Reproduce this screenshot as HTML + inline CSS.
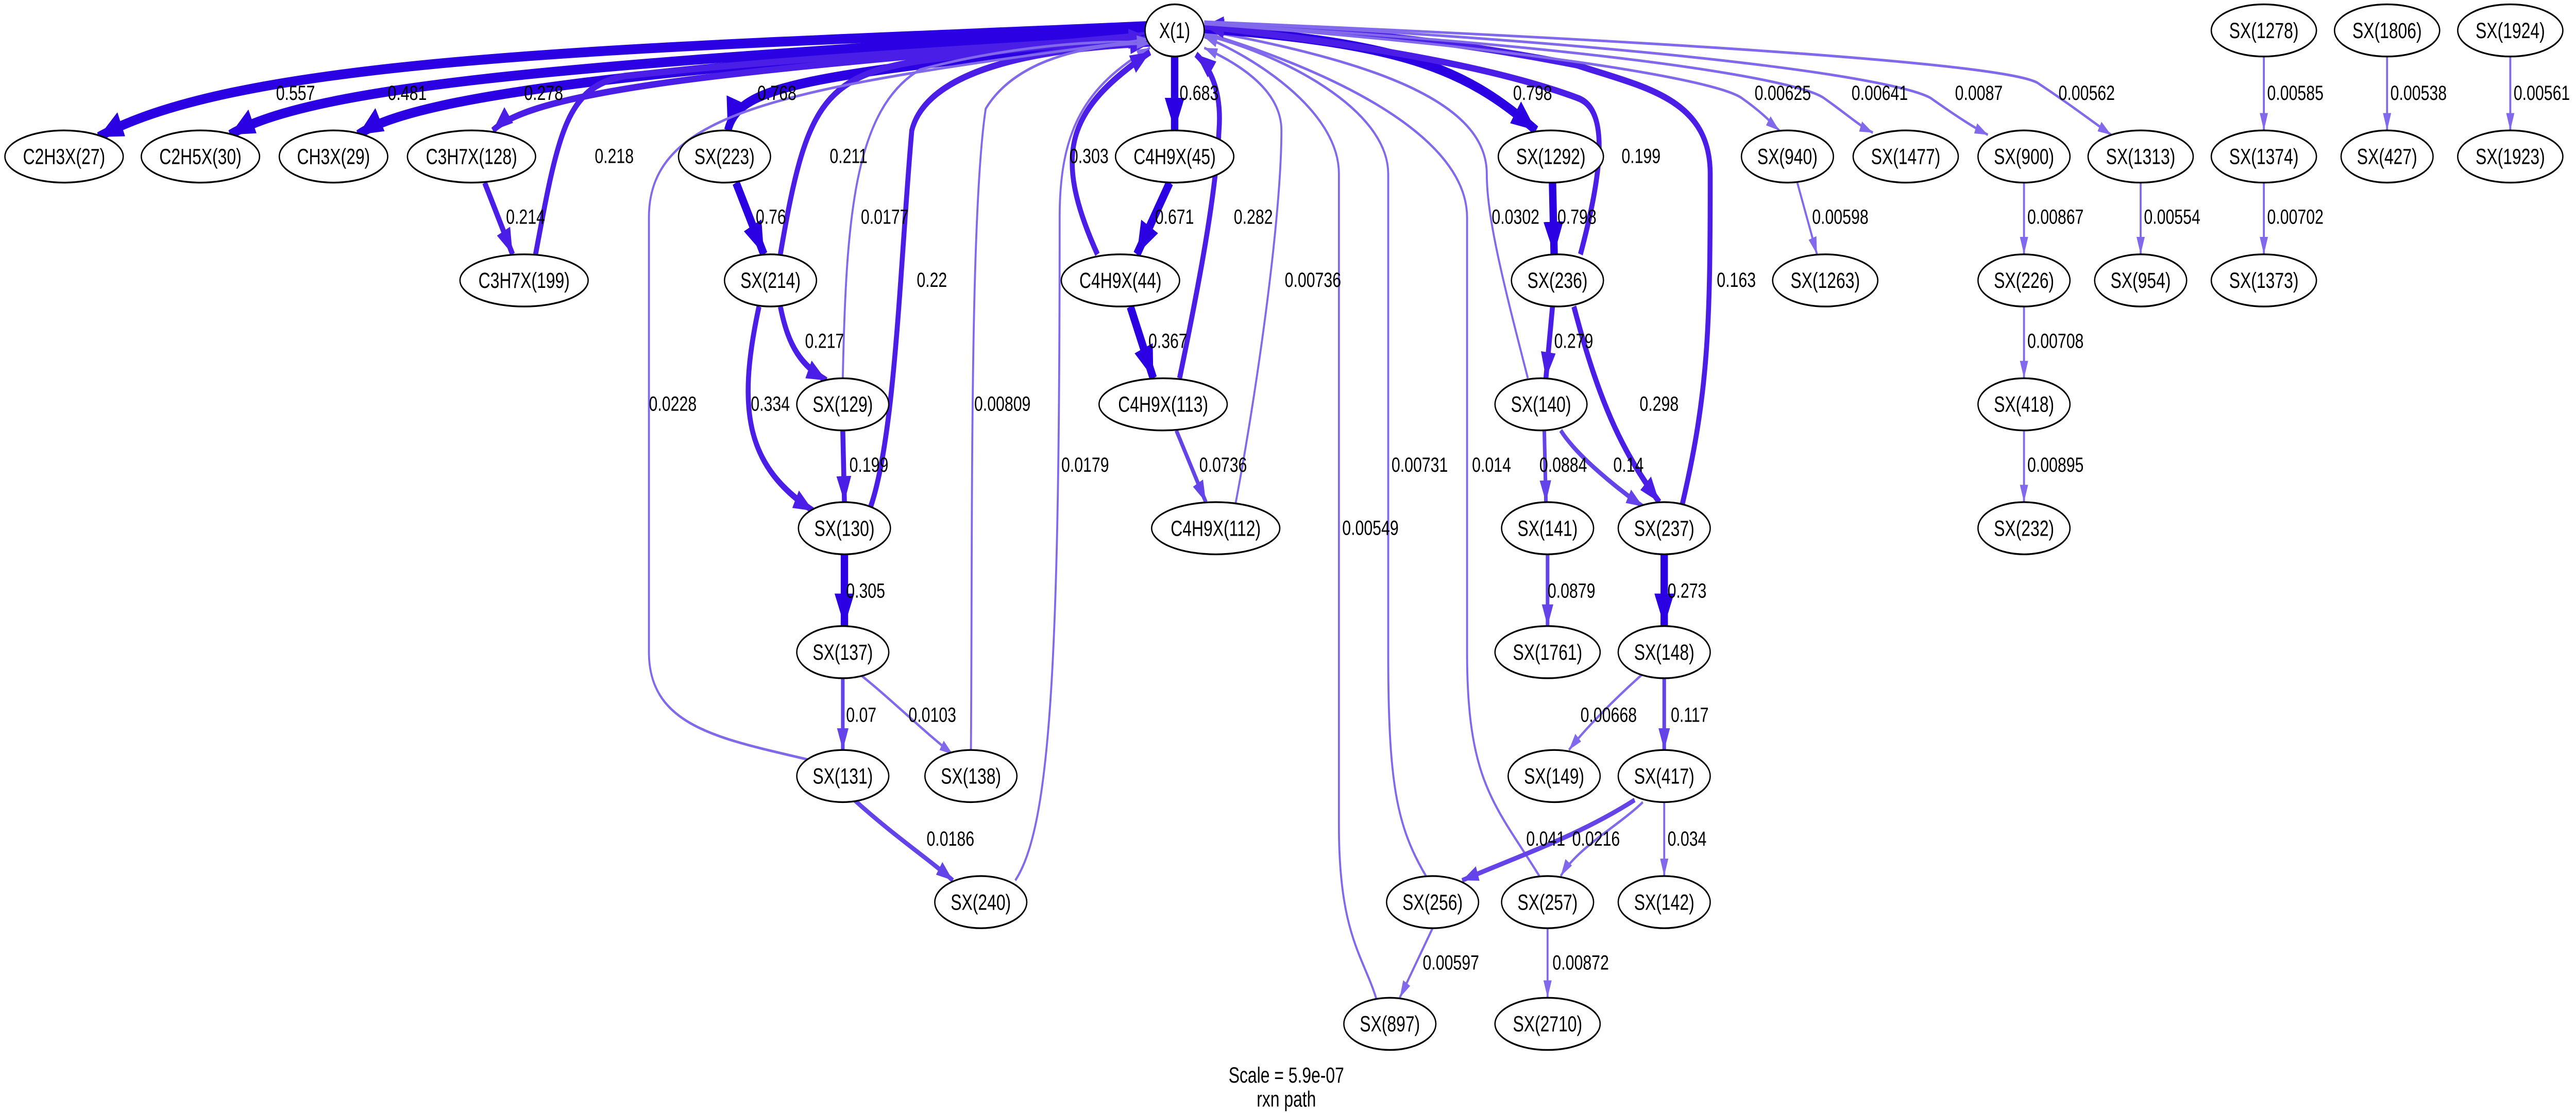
<!DOCTYPE html>
<html><head><meta charset="utf-8"><style>
html,body{margin:0;padding:0;background:#fff;width:100%;height:100%;overflow:hidden;}
svg{display:block;width:100vw;height:100vh;}
text{font-family:"Liberation Sans",Arial,sans-serif;fill:#000;}
.n ellipse{fill:#fff;stroke:#000;stroke-width:0.8;}
.n text{font-size:10px;text-anchor:middle;dominant-baseline:central;}
.l{font-size:9.5px;}
.c1,.c2,.c3,.c4{fill:none;}
.c1{stroke:#2b00e3;stroke-width:4.5;}
.c2{stroke:#4a1ee6;stroke-width:3;}
.c3{stroke:#6443e8;stroke-width:2.2;}
.c4{stroke:#8268ea;stroke-width:1.2;}
</style></head><body>
<svg viewBox="0 0 1568 512" preserveAspectRatio="none" xmlns="http://www.w3.org/2000/svg">
<defs>
<marker id="A" refX="15" refY="6" markerUnits="userSpaceOnUse" markerWidth="15" markerHeight="12" orient="auto"><path d="M0,0L15,6L0,12z" style="fill:#2b00e3;stroke:none"/></marker>
<marker id="B" refX="12" refY="4.5" markerUnits="userSpaceOnUse" markerWidth="12" markerHeight="9" orient="auto"><path d="M0,0L12,4.5L0,9z" style="fill:#4a1ee6;stroke:none"/></marker>
<marker id="C" refX="10" refY="3.5" markerUnits="userSpaceOnUse" markerWidth="10" markerHeight="7" orient="auto"><path d="M0,0L10,3.5L0,7z" style="fill:#6443e8;stroke:none"/></marker>
<marker id="D" refX="8" refY="2.5" markerUnits="userSpaceOnUse" markerWidth="8" markerHeight="5" orient="auto"><path d="M0,0L8,2.5L0,5z" style="fill:#8268ea;stroke:none"/></marker>
</defs>
<rect width="1568" height="512" fill="#fff"/>
<!-- edges -->
<path class="c1" marker-end="url(#A)" d="M698,12 C400,22 150,25 60,63"/>
<path class="c1" marker-end="url(#A)" d="M698,13 C420,28 200,35 140,62"/>
<path class="c1" marker-end="url(#A)" d="M699,14 C450,30 260,40 218,62"/>
<path class="c2" marker-end="url(#B)" d="M700,16 C500,30 330,38 300,60"/>
<path class="c2" marker-end="url(#B)" d="M295,84 L312,117"/>
<path class="c2" marker-end="url(#B)" d="M326,117 C340,60 345,40 380,35 C500,25 650,20 699,17"/>
<path class="c1" marker-end="url(#A)" d="M700,18 C480,35 450,40 443,60"/>
<path class="c1" marker-end="url(#A)" d="M448,84 L465,117"/>
<path class="c2" marker-end="url(#B)" d="M475,117 C490,50 500,35 560,28 C620,22 680,18 699,18"/>
<path class="c2" marker-end="url(#B)" d="M475,141 C480,160 488,168 503,175"/>
<path class="c2" marker-end="url(#B)" d="M462,141 C448,190 455,215 495,235"/>
<path class="c2" marker-end="url(#B)" d="M513,198 L514,231"/>
<path class="c4" marker-end="url(#D)" d="M513,174 C515,100 520,50 560,32 C620,20 680,18 700,20"/>
<path class="c2" marker-end="url(#B)" d="M530,233 C545,200 548,120 555,60 C565,30 640,22 700,20"/>
<path class="c1" marker-end="url(#A)" d="M514,255 L514,288"/>
<path class="c3" marker-end="url(#C)" d="M513,312 L513,345"/>
<path class="c4" marker-end="url(#D)" d="M523,310 C540,320 560,335 580,347"/>
<path class="c4" marker-end="url(#D)" d="M591,345 C592,250 590,100 600,50 C620,25 670,20 700,20"/>
<path class="c4" marker-end="url(#D)" d="M495,350 C440,340 395,335 395,300 L395,100 C395,50 480,40 700,18"/>
<path class="c3" marker-end="url(#C)" d="M520,368 C545,385 565,395 580,405"/>
<path class="c4" marker-end="url(#D)" d="M618,405 C640,380 645,300 645,100 C645,60 660,40 700,22"/>
<path class="c2" marker-end="url(#B)" d="M668,117 C640,70 650,50 700,24"/>
<path class="c1" marker-end="url(#A)" d="M715,26 L715,60"/>
<path class="c1" marker-end="url(#A)" d="M712,84 L692,117"/>
<path class="c1" marker-end="url(#A)" d="M688,141 L702,174"/>
<path class="c2" marker-end="url(#B)" d="M718,174 C730,130 740,90 742,60 C744,40 735,30 728,25"/>
<path class="c3" marker-end="url(#C)" d="M716,198 L734,231"/>
<path class="c4" marker-end="url(#D)" d="M752,232 C765,180 780,100 780,60 C780,40 750,28 733,22"/>
<path class="c4" marker-end="url(#D)" d="M838,460 C830,440 815,430 815,380 L815,80 C815,50 760,25 733,17"/>
<path class="c4" marker-end="url(#D)" d="M868,403 C850,380 845,360 845,300 L845,80 C845,50 780,25 733,16"/>
<path class="c4" marker-end="url(#D)" d="M937,403 C910,370 893,360 893,300 L893,100 C893,60 800,30 733,15"/>
<path class="c4" marker-end="url(#D)" d="M930,174 C915,130 905,100 905,80 C905,50 850,30 733,14"/>
<path class="c1" marker-end="url(#A)" d="M733,13 C850,20 890,30 935,60"/>
<path class="c1" marker-end="url(#A)" d="M945,84 L946,117"/>
<path class="c2" marker-end="url(#B)" d="M962,117 C975,80 980,50 960,45 C900,28 800,18 733,12"/>
<path class="c2" marker-end="url(#B)" d="M945,141 L941,174"/>
<path class="c2" marker-end="url(#B)" d="M958,141 C975,190 990,210 1010,231"/>
<path class="c3" marker-end="url(#C)" d="M940,198 L941,231"/>
<path class="c3" marker-end="url(#C)" d="M950,198 C960,210 985,225 1000,233"/>
<path class="c2" marker-end="url(#B)" d="M1024,232 C1040,180 1041,150 1041,80 C1041,45 1000,40 960,30 C880,18 800,12 733,12"/>
<path class="c1" marker-end="url(#A)" d="M1013,255 L1013,288"/>
<path class="c3" marker-end="url(#C)" d="M942,255 L942,288"/>
<path class="c4" marker-end="url(#D)" d="M1000,310 C985,320 965,335 955,345"/>
<path class="c3" marker-end="url(#C)" d="M1013,312 L1013,345"/>
<path class="c3" marker-end="url(#C)" d="M995,368 C960,385 920,395 890,405"/>
<path class="c4" marker-end="url(#D)" d="M1000,369 C985,380 960,390 950,403"/>
<path class="c4" marker-end="url(#D)" d="M1013,369 L1013,403"/>
<path class="c4" marker-end="url(#D)" d="M872,427 L852,459"/>
<path class="c4" marker-end="url(#D)" d="M942,427 L942,459"/>
<path class="c4" marker-end="url(#D)" d="M733,11 C900,20 1040,35 1060,45 C1075,53 1080,58 1083,60"/>
<path class="c4" marker-end="url(#D)" d="M733,11 C950,20 1090,35 1110,45 C1125,53 1132,58 1140,61"/>
<path class="c4" marker-end="url(#D)" d="M733,10 C1000,20 1150,35 1175,45 C1190,53 1200,58 1210,62"/>
<path class="c4" marker-end="url(#D)" d="M733,10 C1050,20 1220,30 1240,38 C1260,48 1272,55 1285,62"/>
<path class="c4" marker-end="url(#D)" d="M1094,84 L1106,117"/>
<path class="c4" marker-end="url(#D)" d="M1232,84 L1232,117"/>
<path class="c4" marker-end="url(#D)" d="M1232,141 L1232,174"/>
<path class="c4" marker-end="url(#D)" d="M1232,198 L1232,231"/>
<path class="c4" marker-end="url(#D)" d="M1303,84 L1303,117"/>
<path class="c4" marker-end="url(#D)" d="M1378,26 L1378,60"/>
<path class="c4" marker-end="url(#D)" d="M1378,84 L1378,117"/>
<path class="c4" marker-end="url(#D)" d="M1453,26 L1453,60"/>
<path class="c4" marker-end="url(#D)" d="M1528,26 L1528,60"/>
<!-- edge labels -->
<g class="l">
<text x="168" y="46">0.557</text><text x="236" y="46">0.481</text><text x="319" y="46">0.278</text>
<text x="308" y="103">0.214</text><text x="362" y="75">0.218</text>
<text x="461" y="46">0.768</text><text x="460" y="103">0.76</text><text x="505" y="75">0.211</text>
<text x="490" y="160">0.217</text><text x="457" y="189">0.334</text><text x="524" y="103">0.0177</text>
<text x="517" y="217">0.199</text><text x="558" y="132">0.22</text><text x="395" y="189">0.0228</text>
<text x="593" y="189">0.00809</text><text x="646" y="217">0.0179</text>
<text x="515" y="275">0.305</text><text x="515" y="332">0.07</text><text x="553" y="332">0.0103</text>
<text x="564" y="389">0.0186</text>
<text x="651" y="75">0.303</text><text x="718" y="46">0.683</text><text x="703" y="103">0.671</text>
<text x="699" y="160">0.367</text><text x="751" y="103">0.282</text><text x="730" y="217">0.0736</text>
<text x="782" y="132">0.00736</text><text x="817" y="246">0.00549</text><text x="847" y="217">0.00731</text>
<text x="896" y="217">0.014</text><text x="908" y="103">0.0302</text>
<text x="921" y="46">0.798</text><text x="948" y="103">0.798</text><text x="987" y="75">0.199</text>
<text x="946" y="160">0.279</text><text x="998" y="189">0.298</text><text x="937" y="217">0.0884</text>
<text x="982" y="217">0.14</text><text x="1045" y="132">0.163</text><text x="1015" y="275">0.273</text>
<text x="942" y="275">0.0879</text><text x="962" y="332">0.00668</text><text x="1017" y="332">0.117</text>
<text x="929" y="389">0.041</text><text x="957" y="389">0.0216</text><text x="1015" y="389">0.034</text>
<text x="866" y="446">0.00597</text><text x="945" y="446">0.00872</text>
<text x="1068" y="46">0.00625</text><text x="1127" y="46">0.00641</text><text x="1190" y="46">0.0087</text><text x="1253" y="46">0.00562</text>
<text x="1103" y="103">0.00598</text><text x="1234" y="103">0.00867</text><text x="1234" y="160">0.00708</text><text x="1234" y="217">0.00895</text>
<text x="1305" y="103">0.00554</text><text x="1380" y="46">0.00585</text><text x="1380" y="103">0.00702</text>
<text x="1455" y="46">0.00538</text><text x="1530" y="46">0.00561</text>
</g>
<!-- nodes -->
<g class="n">
<ellipse cx="715" cy="14" rx="18" ry="12"/><text x="715" y="14">X(1)</text>
<ellipse cx="39" cy="72" rx="36" ry="12"/><text x="39" y="72">C2H3X(27)</text>
<ellipse cx="122" cy="72" rx="36" ry="12"/><text x="122" y="72">C2H5X(30)</text>
<ellipse cx="203" cy="72" rx="33" ry="12"/><text x="203" y="72">CH3X(29)</text>
<ellipse cx="287" cy="72" rx="39" ry="12"/><text x="287" y="72">C3H7X(128)</text>
<ellipse cx="441" cy="72" rx="28" ry="12"/><text x="441" y="72">SX(223)</text>
<ellipse cx="715" cy="72" rx="36" ry="12"/><text x="715" y="72">C4H9X(45)</text>
<ellipse cx="944" cy="72" rx="32" ry="12"/><text x="944" y="72">SX(1292)</text>
<ellipse cx="1088" cy="72" rx="28" ry="12"/><text x="1088" y="72">SX(940)</text>
<ellipse cx="1160" cy="72" rx="32" ry="12"/><text x="1160" y="72">SX(1477)</text>
<ellipse cx="1232" cy="72" rx="28" ry="12"/><text x="1232" y="72">SX(900)</text>
<ellipse cx="1303" cy="72" rx="32" ry="12"/><text x="1303" y="72">SX(1313)</text>
<ellipse cx="1378" cy="72" rx="32" ry="12"/><text x="1378" y="72">SX(1374)</text>
<ellipse cx="1453" cy="72" rx="28" ry="12"/><text x="1453" y="72">SX(427)</text>
<ellipse cx="1528" cy="72" rx="32" ry="12"/><text x="1528" y="72">SX(1923)</text>
<ellipse cx="1378" cy="14" rx="32" ry="12"/><text x="1378" y="14">SX(1278)</text>
<ellipse cx="1453" cy="14" rx="32" ry="12"/><text x="1453" y="14">SX(1806)</text>
<ellipse cx="1528" cy="14" rx="32" ry="12"/><text x="1528" y="14">SX(1924)</text>
<ellipse cx="319" cy="129" rx="39" ry="12"/><text x="319" y="129">C3H7X(199)</text>
<ellipse cx="469" cy="129" rx="28" ry="12"/><text x="469" y="129">SX(214)</text>
<ellipse cx="682" cy="129" rx="36" ry="12"/><text x="682" y="129">C4H9X(44)</text>
<ellipse cx="948" cy="129" rx="28" ry="12"/><text x="948" y="129">SX(236)</text>
<ellipse cx="1111" cy="129" rx="32" ry="12"/><text x="1111" y="129">SX(1263)</text>
<ellipse cx="1232" cy="129" rx="28" ry="12"/><text x="1232" y="129">SX(226)</text>
<ellipse cx="1303" cy="129" rx="28" ry="12"/><text x="1303" y="129">SX(954)</text>
<ellipse cx="1378" cy="129" rx="32" ry="12"/><text x="1378" y="129">SX(1373)</text>
<ellipse cx="513" cy="186" rx="28" ry="12"/><text x="513" y="186">SX(129)</text>
<ellipse cx="708" cy="186" rx="39" ry="12"/><text x="708" y="186">C4H9X(113)</text>
<ellipse cx="938" cy="186" rx="28" ry="12"/><text x="938" y="186">SX(140)</text>
<ellipse cx="1232" cy="186" rx="28" ry="12"/><text x="1232" y="186">SX(418)</text>
<ellipse cx="514" cy="243" rx="28" ry="12"/><text x="514" y="243">SX(130)</text>
<ellipse cx="740" cy="243" rx="39" ry="12"/><text x="740" y="243">C4H9X(112)</text>
<ellipse cx="942" cy="243" rx="28" ry="12"/><text x="942" y="243">SX(141)</text>
<ellipse cx="1013" cy="243" rx="28" ry="12"/><text x="1013" y="243">SX(237)</text>
<ellipse cx="1232" cy="243" rx="28" ry="12"/><text x="1232" y="243">SX(232)</text>
<ellipse cx="513" cy="300" rx="28" ry="12"/><text x="513" y="300">SX(137)</text>
<ellipse cx="1013" cy="300" rx="28" ry="12"/><text x="1013" y="300">SX(148)</text>
<ellipse cx="942" cy="300" rx="32" ry="12"/><text x="942" y="300">SX(1761)</text>
<ellipse cx="513" cy="357" rx="28" ry="12"/><text x="513" y="357">SX(131)</text>
<ellipse cx="591" cy="357" rx="28" ry="12"/><text x="591" y="357">SX(138)</text>
<ellipse cx="946" cy="357" rx="28" ry="12"/><text x="946" y="357">SX(149)</text>
<ellipse cx="1013" cy="357" rx="28" ry="12"/><text x="1013" y="357">SX(417)</text>
<ellipse cx="597" cy="415" rx="28" ry="12"/><text x="597" y="415">SX(240)</text>
<ellipse cx="872" cy="415" rx="28" ry="12"/><text x="872" y="415">SX(256)</text>
<ellipse cx="942" cy="415" rx="28" ry="12"/><text x="942" y="415">SX(257)</text>
<ellipse cx="1013" cy="415" rx="28" ry="12"/><text x="1013" y="415">SX(142)</text>
<ellipse cx="846" cy="471" rx="28" ry="12"/><text x="846" y="471">SX(897)</text>
<ellipse cx="942" cy="471" rx="32" ry="12"/><text x="942" y="471">SX(2710)</text>
</g>
<text x="783" y="498" font-size="10" text-anchor="middle">Scale = 5.9e-07</text>
<text x="783" y="509" font-size="10" text-anchor="middle">rxn path</text>
</svg>
</body></html>
